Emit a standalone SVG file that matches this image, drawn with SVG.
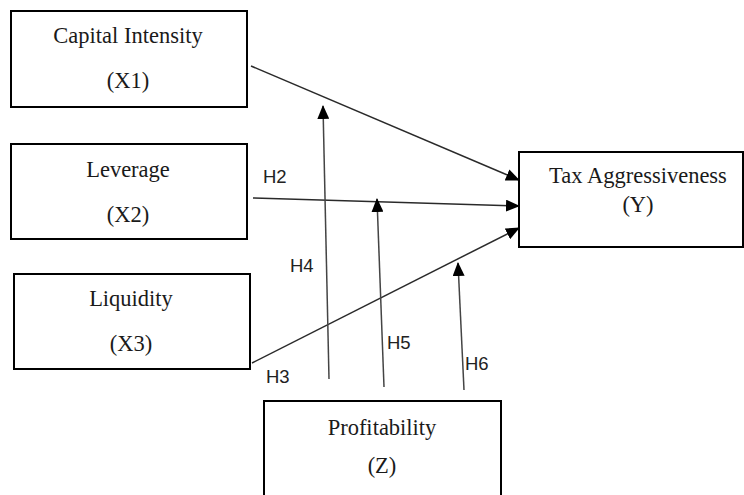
<svg xmlns="http://www.w3.org/2000/svg" width="744" height="495" viewBox="0 0 744 495">
<style>
.box{fill:#fff;stroke:#000;stroke-width:2}
.t{font-family:"Liberation Serif","Times New Roman",serif;font-size:22.5px;fill:#1a1a1a;text-anchor:middle}
.h{font-family:"Liberation Sans",Arial,sans-serif;font-size:18.5px;fill:#222}
.c{stroke:#2a2a2a;stroke-width:1.5;fill:none;marker-end:url(#ah)}
.v{stroke:#444;stroke-width:1.5;fill:none;marker-end:url(#ah)}
</style>
<defs>
<marker id="ah" markerUnits="userSpaceOnUse" markerWidth="14" markerHeight="12" viewBox="0 0 14 12" refX="13" refY="6" orient="auto">
<path d="M0,0 L14,6 L0,12 Z" fill="#000"/>
</marker>
</defs>
<rect width="744" height="495" fill="#fff"/>
<g id="connectors">
<line class="c" x1="251" y1="66" x2="519" y2="180"/>
<line class="c" x1="253" y1="198" x2="519" y2="206"/>
<line class="c" x1="252" y1="363" x2="519" y2="228"/>
<line class="v" x1="329" y1="379" x2="323" y2="106"/>
<line class="v" x1="384" y1="387" x2="377" y2="199"/>
<line class="v" x1="464" y1="390" x2="458" y2="263"/>
<text class="h" x="263" y="183">H2</text>
<text class="h" x="290" y="272">H4</text>
<text class="h" x="266" y="383">H3</text>
<text class="h" x="387" y="349">H5</text>
<text class="h" x="465" y="370">H6</text>
</g>
<g id="x1">
<rect class="box" x="11" y="11" width="236" height="96"/>
<text class="t" x="128" y="43">Capital Intensity</text>
<text class="t" x="128" y="88">(X1)</text>
</g>
<g id="x2">
<rect class="box" x="11" y="144" width="236" height="95"/>
<text class="t" x="128" y="177">Leverage</text>
<text class="t" x="128" y="222">(X2)</text>
</g>
<g id="x3">
<rect class="box" x="14" y="274" width="236" height="95"/>
<text class="t" x="131" y="306">Liquidity</text>
<text class="t" x="131" y="351">(X3)</text>
</g>
<g id="y">
<rect class="box" x="519" y="152" width="224" height="95"/>
<text class="t" x="638" y="183">Tax Aggressiveness</text>
<text class="t" x="638" y="212">(Y)</text>
</g>
<g id="z">
<rect class="box" x="264" y="401" width="237" height="100"/>
<text class="t" x="382" y="435">Profitability</text>
<text class="t" x="382" y="473">(Z)</text>
</g>
</svg>
